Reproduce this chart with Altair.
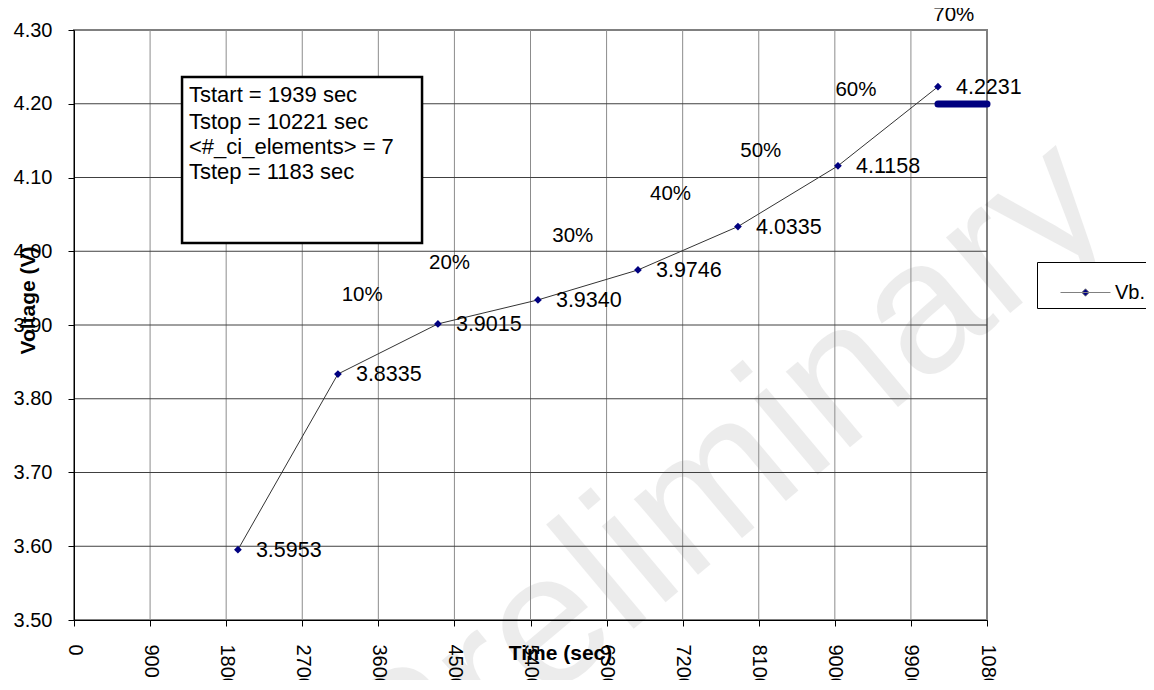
import altair as alt
import pandas as pd

# ---- data ----
times = [1939, 3122, 4305, 5488, 6671, 7854, 9037, 10220]
volts = [3.5953, 3.8335, 3.9015, 3.9340, 3.9746, 4.0335, 4.1158, 4.2231]
vlabels = ["3.5953", "3.8335", "3.9015", "3.9340", "3.9746", "4.0335", "4.1158", "4.2231"]

rest_times = [10220, 10800]
rest_volts = [4.1995, 4.1995]

pct_labels = ["10%", "20%", "30%", "40%", "50%", "60%", "70%"]
pct_times = [3409, 4442, 5900, 7056, 8124, 9250, 10407]
pct_volts = [3.9407, 3.9845, 4.0207, 4.0776, 4.1363, 4.2186, 4.3203]

box_lines = ["Tstart = 1939 sec", "Tstop = 10221 sec", "<#_ci_elements> = 7", "Tstep = 1183 sec"]
box_line_volts = [4.2119, 4.1757, 4.1418, 4.1079]
box_text_time = 1360
box_time = [1278, 4117]
box_volt = [4.2363, 4.0112]

x_ticks = [0, 900, 1800, 2700, 3600, 4500, 5400, 6300, 7200, 8100, 9000, 9900, 10800]
y_ticks = [3.5, 3.6, 3.7, 3.8, 3.9, 4.0, 4.1, 4.2, 4.3]
series_name = "Vb.."
FONT = "Liberation Sans"

df = pd.DataFrame({"t": times, "v": volts, "lab": vlabels, "series": [series_name] * len(times)})
rest = pd.DataFrame({"t": rest_times, "v": rest_volts})
pct = pd.DataFrame({"t": pct_times, "v": pct_volts, "lab": pct_labels})
boxtxt = pd.DataFrame({"t": [box_text_time] * len(box_lines), "v": box_line_volts, "lab": box_lines})
box = pd.DataFrame({"t": [box_time[0]], "t2": [box_time[1]], "v": [box_volt[0]], "v2": [box_volt[1]]})
xg = pd.DataFrame({"t": x_ticks[1:-1]})
yg = pd.DataFrame({"v": y_ticks[1:-1]})
wm = pd.DataFrame({"lab": ["Preliminary"]})

xs = alt.Scale(domain=[0, 10800], nice=False, zero=False)
ys = alt.Scale(domain=[3.5, 4.3], nice=False, zero=False)

xaxis = alt.Axis(values=x_ticks, format="d", labelAngle=90, labelAlign="left", labelBaseline="middle",
                 labelFontSize=20, labelPadding=18, tickSize=6, tickColor="black", domainColor="black",
                 grid=False, zindex=1, labelOverlap=False, labelFlush=False, labelBound=False,
                 title="Time (sec)", titleFontSize=21, titleFontWeight="bold", titleX=486, titleY=33,
                 titleBaseline="middle", titleColor="black", labelColor="black")
yaxis = alt.Axis(values=y_ticks, format=".2f", labelFontSize=20, labelPadding=16, tickSize=6,
                 tickColor="black", domainColor="black", grid=False, zindex=1, labelOverlap=False,
                 labelFlush=False, title="Voltage (V)", titleFontSize=21, titleFontWeight="bold",
                 titleX=-46, titleY=270, titleBaseline="middle", titleAngle=270, titleColor="black",
                 labelColor="black")

watermark = alt.Chart(wm).mark_text(fontSize=188, font=FONT, color="#000000", opacity=0.07, angle=320,
                                    align="center", baseline="middle").encode(
    text="lab:N", x=alt.value(650), y=alt.value(450))

xgrid = alt.Chart(xg).mark_rule(color="#8c8c8c", strokeWidth=1).encode(
    x=alt.X("t:Q", scale=xs, axis=xaxis))
ygrid = alt.Chart(yg).mark_rule(color="#404040", strokeWidth=1).encode(
    y=alt.Y("v:Q", scale=ys, axis=yaxis))

boxmark = alt.Chart(box).mark_rect(fill="white", stroke="black", strokeWidth=2.5).encode(
    x=alt.X("t:Q", scale=xs), x2="t2:Q",
    y=alt.Y("v:Q", scale=ys), y2="v2:Q")

line = alt.Chart(df).mark_line(color="#333333", strokeWidth=1).encode(
    x=alt.X("t:Q", scale=xs), y=alt.Y("v:Q", scale=ys))

restline = alt.Chart(rest).mark_line(color="#000080", strokeWidth=7, strokeCap="round").encode(
    x=alt.X("t:Q", scale=xs), y=alt.Y("v:Q", scale=ys))

legend_path = "M-1,0L1,0M0,-0.15L0.15,0L0,0.15L-0.15,0Z"
points = alt.Chart(df).mark_point(shape="diamond", filled=True, size=60, opacity=1).encode(
    x=alt.X("t:Q", scale=xs), y=alt.Y("v:Q", scale=ys),
    color=alt.Color("series:N", scale=alt.Scale(domain=[series_name], range=["#000080"]),
                    legend=alt.Legend(title=None, orient="none", legendX=963, legendY=232,
                                      strokeColor="black", fillColor="white", padding=5,
                                      symbolType=legend_path, symbolSize=2500, symbolOffset=18,
                                      symbolStrokeColor="#808080", symbolFillColor="#000080",
                                      symbolStrokeWidth=1, labelFontSize=20, labelOffset=4,
                                      labelFont=FONT, labelColor="black", labelLimit=200)))

vtext = alt.Chart(df).mark_text(align="left", baseline="middle", dx=18, dy=1, fontSize=21.5,
                                font=FONT, color="black").encode(
    x=alt.X("t:Q", scale=xs), y=alt.Y("v:Q", scale=ys), text="lab:N")

ptext = alt.Chart(pct).mark_text(align="center", baseline="middle", fontSize=20.5, font=FONT,
                                 color="black").encode(
    x=alt.X("t:Q", scale=xs), y=alt.Y("v:Q", scale=ys), text="lab:N")

btext = alt.Chart(boxtxt).mark_text(align="left", baseline="middle", fontSize=22, font=FONT,
                                    color="black").encode(
    x=alt.X("t:Q", scale=xs), y=alt.Y("v:Q", scale=ys), text="lab:N")

chart = alt.layer(watermark, xgrid, ygrid, boxmark, line, restline, points, vtext, ptext, btext).properties(
    width=913, height=590,
    autosize=alt.AutoSizeParams(type="none"),
    padding={"left": 66, "top": 22, "right": 159, "bottom": 60},
).configure(font=FONT).configure_view(stroke="#808080", strokeWidth=2)

chart.save("out.html", embed_options={"renderer": "svg", "actions": False})
